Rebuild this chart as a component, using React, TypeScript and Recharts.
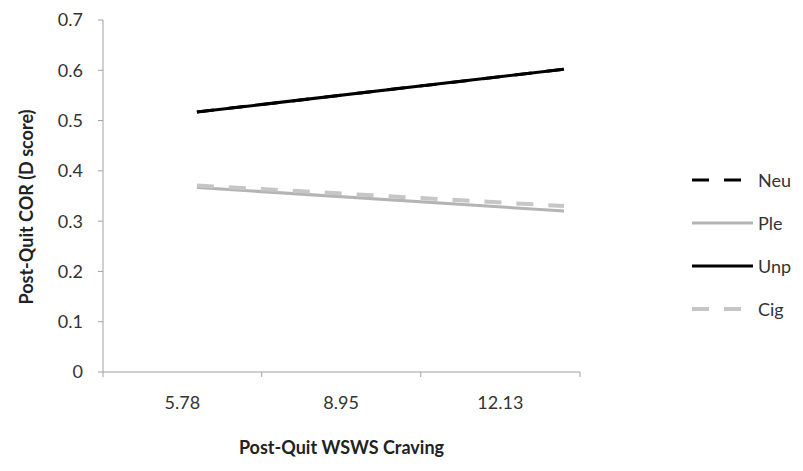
import { LineChart, Line, XAxis, YAxis, Legend } from "recharts";

// x positions are in craving units (the three labelled levels sit at band centres)
const cravingTicks = [5.78, 8.95, 12.13];
const cravingEnds = [6.07, 13.4];

const neuValues = [0.517, 0.602];
const pleValues = [0.367, 0.32];
const unpValues = [0.517, 0.602];
const cigValues = [0.371, 0.33];

const yTicks = [0, 0.1, 0.2, 0.3, 0.4, 0.5, 0.6, 0.7];

const series = [
  { key: "Neu", color: "#000000", dash: "17 15", width: 3 },
  { key: "Ple", color: "#b4b4b4", dash: undefined, width: 3 },
  { key: "Unp", color: "#000000", dash: undefined, width: 3 },
  { key: "Cig", color: "#c6c6c6", dash: "17 15", width: 4 },
];

const data = cravingEnds.map((x, i) => ({
  x,
  Neu: neuValues[i],
  Ple: pleValues[i],
  Unp: unpValues[i],
  Cig: cigValues[i],
}));

// band edges half a step outside the labelled levels (Excel "between categories")
const t = cravingTicks;
const xDomain = [t[0] - (t[1] - t[0]) / 2, t[2] + (t[2] - t[1]) / 2];
const bandEdges = [xDomain[0], (t[0] + t[1]) / 2, (t[1] + t[2]) / 2, xDomain[1]];

const font = "Lato, 'Open Sans', sans-serif";
const axisColor = "#a0a0a0";
const textColor = "#333333";

function LegendBox() {
  return (
    <div style={{ fontFamily: font, fontSize: 18, color: textColor }}>
      {series.map((s) => (
        <div
          key={s.key}
          style={{ display: "flex", alignItems: "center", height: 43 }}
        >
          <svg width={61} height={10}>
            <line
              x1={0}
              x2={61}
              y1={5}
              y2={5}
              stroke={s.color}
              strokeWidth={s.width}
              strokeDasharray={s.dash}
            />
          </svg>
          <span style={{ marginLeft: 5 }}>{s.key}</span>
        </div>
      ))}
    </div>
  );
}

export default function App() {
  return (
    <div style={{ width: 803, height: 471, background: "#fff" }}>
      <style>{"body{margin:0}"}</style>
      <LineChart
        width={803}
        height={471}
        data={data}
        margin={{ top: 20, right: 223, bottom: 0, left: 0 }}
      >
        {/* axis line + tick marks at band edges */}
        <XAxis
          xAxisId={0}
          dataKey="x"
          type="number"
          domain={xDomain}
          ticks={bandEdges}
          tickFormatter={() => ""}
          height={1}
          tickSize={5}
          stroke={axisColor}
          allowDataOverflow
        />
        {/* category labels at band centres */}
        <XAxis
          xAxisId={1}
          dataKey="x"
          type="number"
          domain={xDomain}
          ticks={cravingTicks}
          tickFormatter={(v: number) => v.toFixed(2)}
          height={98}
          axisLine={false}
          tickLine={false}
          tickSize={0}
          tickMargin={23}
          tick={{ fontFamily: font, fontSize: 18, fill: textColor }}
          allowDataOverflow
          label={{
            content: (props: any) => {
              const vb = props.viewBox;
              return (
                <text
                  x={vb.x + vb.width / 2}
                  y={vb.y + 74}
                  textAnchor="middle"
                  dominantBaseline="central"
                  fontFamily={font}
                  fontSize={18}
                  fontWeight="bold"
                  fill="#222"
                >
                  Post-Quit WSWS Craving
                </text>
              );
            },
          }}
        />
        <YAxis
          width={103}
          domain={[0, 0.7]}
          ticks={yTicks}
          tickFormatter={(v: number) => (v === 0 ? "0" : v.toFixed(1))}
          tickSize={5}
          tickMargin={15}
          stroke={axisColor}
          tick={{ fontFamily: font, fontSize: 18, fill: textColor }}
          label={{
            content: (props: any) => {
              const vb = props.viewBox;
              const cx = vb.x + 26;
              const cy = vb.y + vb.height / 2 + 11;
              return (
                <text
                  x={cx}
                  y={cy}
                  transform={`rotate(-90 ${cx} ${cy})`}
                  textAnchor="middle"
                  dominantBaseline="central"
                  fontFamily={font}
                  fontSize={18}
                  fontWeight="bold"
                  fill="#222"
                >
                  Post-Quit COR (D score)
                </text>
              );
            },
          }}
        />
        <Legend
          layout="vertical"
          align="center"
          verticalAlign="middle"
          wrapperStyle={{ left: 692, top: 158, width: 110 }}
          content={() => <LegendBox />}
        />
        {series.map((s) => (
          <Line
            key={s.key}
            xAxisId={0}
            type="linear"
            dataKey={s.key}
            stroke={s.color}
            strokeWidth={s.width}
            strokeDasharray={s.dash}
            dot={false}
            activeDot={false}
            isAnimationActive={false}
          />
        ))}
      </LineChart>
    </div>
  );
}
